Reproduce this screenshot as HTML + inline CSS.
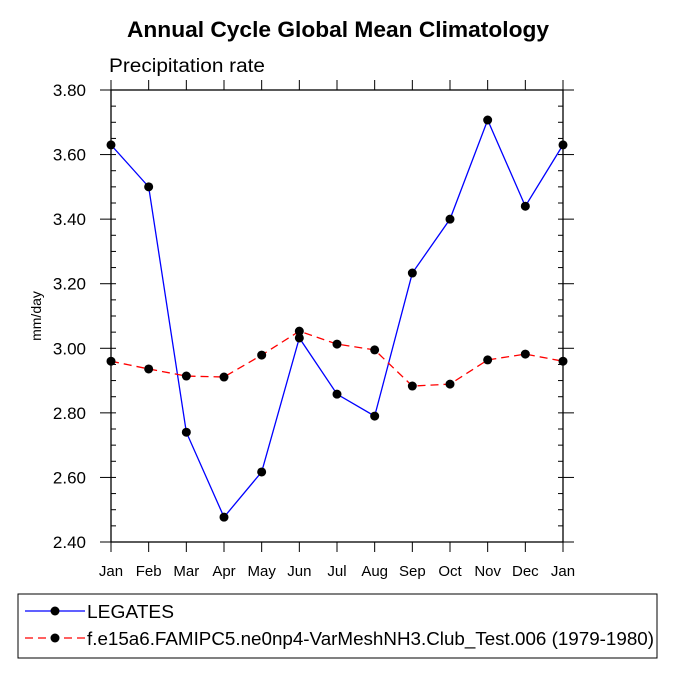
<!DOCTYPE html>
<html><head><meta charset="utf-8"><style>
body{margin:0;background:#fff;font-family:"Liberation Sans",sans-serif}
</style></head><body>
<svg width="675" height="675" xmlns="http://www.w3.org/2000/svg" font-family="Liberation Sans, sans-serif">
<text x="127" y="37" textLength="422" lengthAdjust="spacingAndGlyphs" font-size="22" font-weight="bold">Annual Cycle Global Mean Climatology</text>
<text x="109" y="72" textLength="156" lengthAdjust="spacingAndGlyphs" font-size="19">Precipitation rate</text>
<text transform="translate(41,316) rotate(-90)" text-anchor="middle" font-size="14">mm/day</text>
<g id="axes"></g>
<g id="series"></g>
<rect x="18" y="594" width="639" height="64" fill="none" stroke="#000"/>
<g>
<line x1="25" y1="611" x2="85" y2="611" stroke="#0000ff" stroke-width="1.3"/>
<circle cx="55" cy="611" r="4.5"/>
<text x="87" y="618" textLength="87" lengthAdjust="spacingAndGlyphs" font-size="18">LEGATES</text></g>
<g>
<line x1="25" y1="638" x2="85" y2="638" stroke="#ff0000" stroke-width="1.3" stroke-dasharray="8,5"/>
<circle cx="55" cy="638" r="4.5"/>
<text x="87" y="645" textLength="567" lengthAdjust="spacingAndGlyphs" font-size="18">f.e15a6.FAMIPC5.ne0np4-VarMeshNH3.Club_Test.006 (1979-1980)</text></g>
</svg>
<script>
const months=["Jan","Feb","Mar","Apr","May","Jun","Jul","Aug","Sep","Oct","Nov","Dec","Jan"];
const legates=[3.63,3.50,2.74,2.477,2.617,3.032,2.858,2.79,3.233,3.40,3.707,3.44,3.63];
const model=[2.96,2.936,2.914,2.911,2.979,3.053,3.013,2.995,2.883,2.889,2.964,2.982,2.96];
const yTicks=["2.40","2.60","2.80","3.00","3.20","3.40","3.60","3.80"];
const NS="http://www.w3.org/2000/svg";
const L=111,R=563,T=90,B=542,ymin=2.4,ymax=3.8;
const xs=i=>L+(R-L)*i/(months.length-1);
const ys=v=>B-(v-ymin)/(ymax-ymin)*(B-T);
function mk(t,a,p){const e=document.createElementNS(NS,t);for(const k in a)e.setAttribute(k,a[k]);p.appendChild(e);return e;}
const ax=document.getElementById('axes');
const fr=mk('rect',{x:L,y:T,width:R-L,height:B-T,fill:'none',stroke:'#000','stroke-width':1.3},ax);


months.forEach((m,i)=>{const x=xs(i);
mk('line',{x1:x,y1:B,x2:x,y2:B+10,stroke:'#000'},ax);
mk('line',{x1:x,y1:T,x2:x,y2:T-10,stroke:'#000'},ax);
const t=mk('text',{x:x,y:B+34,'text-anchor':'middle','font-size':15},ax);t.textContent=m;

});
for(let v=ymin;v<=ymax+1e-9;v+=0.05){const y=ys(v);
mk('line',{x1:L,y1:y,x2:L+5,y2:y,stroke:'#000'},ax);mk('line',{x1:R,y1:y,x2:R-5,y2:y,stroke:'#000'},ax);}
yTicks.forEach(s=>{const y=ys(parseFloat(s));
mk('line',{x1:L,y1:y,x2:L-11,y2:y,stroke:'#000'},ax);mk('line',{x1:R,y1:y,x2:R+11,y2:y,stroke:'#000'},ax);
const t=mk('text',{x:86,y:y+6,'text-anchor':'end','font-size':17},ax);t.textContent=s;

});
const sg=document.getElementById('series');
function draw(vals,col,dash,name){
const g=mk('g',{},sg);


mk('polyline',{points:vals.map((v,i)=>xs(i)+','+ys(v)).join(' '),fill:'none',stroke:col,'stroke-width':1.3,'stroke-dasharray':dash},g);
vals.forEach((v,i)=>{const c=mk('circle',{cx:xs(i),cy:ys(v),r:4.5,fill:'#000'},g);

});}
draw(legates,'#0000ff','none','legates-series');
draw(model,'#ff0000','8,5','model-series');
</script>
</body></html>
